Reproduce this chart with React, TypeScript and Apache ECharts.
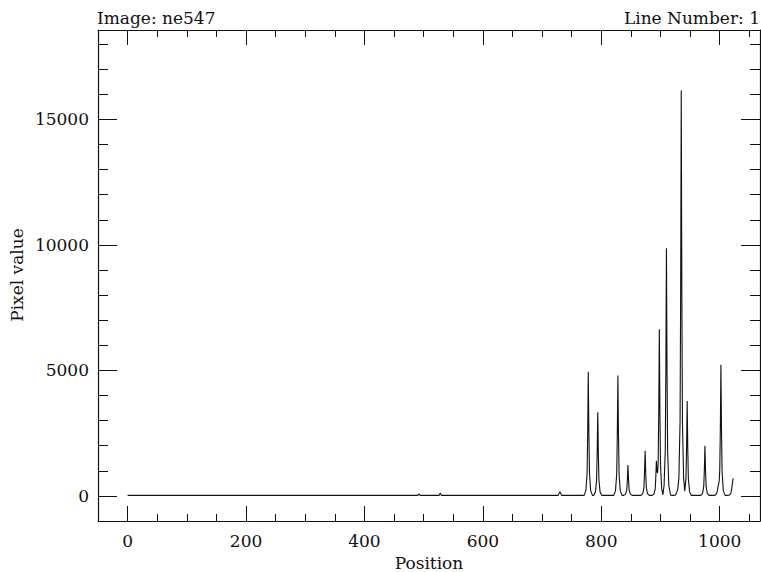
import React, { useEffect, useRef } from "react";
import * as echarts from "echarts";

const positions = [
  0, 490, 492, 494, 526, 528, 530, 727, 730, 733,
  771, 774, 776, 777, 778, 779, 780, 782, 785,
  787, 790, 792, 793, 794, 795, 796, 798, 801,
  821, 824, 826, 827, 828, 829, 830, 832, 835,
  838, 841, 843, 844, 845, 846, 847, 849, 852,
  867, 870, 872, 873, 874, 875, 876, 878, 881,
  886, 889, 891, 892, 893, 894, 895, 896, 897, 898, 899, 900, 902, 904,
  906, 908, 909, 910, 911, 912, 914, 917, 920,
  925, 927, 929, 931, 933, 934, 935, 936, 937, 939, 941, 943, 944, 945, 946, 947, 949, 952,
  968, 971, 973, 974, 975, 976, 977, 979, 982,
  990, 993, 995, 996, 998, 999, 1000, 1001, 1002, 1003, 1004, 1006, 1009,
  1012, 1016, 1018, 1019, 1020, 1021, 1022, 1023,
];

const pixelValues = [
  20, 20, 80, 20, 20, 120, 20, 20, 170, 20,
  20, 220, 910, 2500, 4950, 2500, 910, 220, 20,
  20, 150, 620, 1685, 3330, 1685, 620, 150, 20,
  20, 210, 880, 2420, 4800, 2420, 880, 210, 20,
  20, 70, 240, 635, 1230, 635, 240, 70, 20,
  20, 90, 340, 920, 1800, 920, 340, 90, 20,
  20, 80, 270, 720, 1400, 980, 910, 1300, 3340, 6640, 3320, 1220, 285, 40,
  415, 1800, 4950, 9870, 4950, 1800, 415, 30, 20,
  30, 120, 260, 700, 2950, 8100, 16150, 8100, 2950, 720, 190, 700, 1910, 3780, 1910, 700, 170, 20,
  20, 100, 380, 1010, 2000, 1010, 380, 100, 20,
  20, 40, 110, 200, 480, 560, 1000, 2610, 5220, 2610, 940, 210, 20,
  20, 30, 80, 130, 260, 430, 620, 700,
];

const xMajorTicks = [0, 200, 400, 600, 800, 1000];
const xMinorTicks = [50, 100, 150, 250, 300, 350, 450, 500, 550, 650, 700, 750, 850, 900, 950, 1050];
const yMajorTicks = [0, 5000, 10000, 15000];
const yMinorTicks = [1000, 2000, 3000, 4000, 6000, 7000, 8000, 9000, 11000, 12000, 13000, 14000, 16000, 17000, 18000];

const X_MIN = -50;
const X_MAX = 1068;
const Y_MIN = -1000;
const Y_MAX = 18560;

const FONT = "DejaVu Serif";
const FONT_SIZE = 17;
const INK = "#111";

export default function App() {
  const ref = useRef<HTMLDivElement>(null);

  useEffect(() => {
    if (!ref.current) return;
    const chart = echarts.init(ref.current, undefined, { renderer: "svg" });

    const line = { show: true, onZero: false, lineStyle: { color: INK, width: 1.2 } };
    const noLine = { show: false, onZero: false };

    const xAxisBase = (position: string, major: boolean, labels: boolean) => ({
      type: "value",
      position,
      min: X_MIN,
      max: X_MAX,
      axisLine: major ? line : noLine,
      splitLine: { show: false },
      axisTick: {
        show: true,
        inside: true,
        length: major ? 15 : 7,
        customValues: major ? xMajorTicks : xMinorTicks,
        lineStyle: { color: INK, width: 1 },
      },
      axisLabel: labels
        ? {
            show: true,
            customValues: xMajorTicks,
            formatter: (v: number) => String(v),
            margin: 11,
            color: INK,
            fontFamily: FONT,
            fontSize: FONT_SIZE,
          }
        : { show: false },
    });

    const yAxisBase = (position: string, major: boolean, labels: boolean) => ({
      type: "value",
      position,
      min: Y_MIN,
      max: Y_MAX,
      axisLine: major ? line : noLine,
      splitLine: { show: false },
      axisTick: {
        show: true,
        inside: true,
        length: major ? 19 : 10,
        customValues: major ? yMajorTicks : yMinorTicks,
        lineStyle: { color: INK, width: 1 },
      },
      axisLabel: labels
        ? {
            show: true,
            customValues: yMajorTicks,
            formatter: (v: number) => String(v),
            margin: 9,
            color: INK,
            fontFamily: FONT,
            fontSize: FONT_SIZE,
          }
        : { show: false },
    });

    const data = positions.map((p, i) => [p, pixelValues[i]]);

    chart.setOption({
      animation: false,
      backgroundColor: "#fff",
      grid: { left: 98, right: 1, top: 30, bottom: 51, containLabel: false },
      xAxis: [
        xAxisBase("bottom", true, true),
        xAxisBase("bottom", false, false),
        xAxisBase("top", true, false),
        xAxisBase("top", false, false),
      ],
      yAxis: [
        yAxisBase("left", true, true),
        yAxisBase("left", false, false),
        yAxisBase("right", true, false),
        yAxisBase("right", false, false),
      ],
      series: [
        {
          type: "line",
          xAxisIndex: 0,
          yAxisIndex: 0,
          data,
          showSymbol: false,
          symbol: "none",
          lineStyle: { color: INK, width: 1.1 },
        },
      ],
      graphic: [
        {
          type: "text",
          left: 97,
          top: 9,
          style: { text: "Image: ne547", fill: INK, font: `${FONT_SIZE}px "${FONT}"` },
        },
        {
          type: "text",
          right: 1,
          top: 9,
          style: { text: "Line Number: 1", fill: INK, font: `${FONT_SIZE}px "${FONT}"` },
        },
        {
          type: "text",
          x: 17,
          y: 275,
          rotation: Math.PI / 2,
          style: {
            text: "Pixel value",
            fill: INK,
            font: `${FONT_SIZE}px "${FONT}"`,
            align: "center",
            verticalAlign: "middle",
          },
        },
        {
          type: "text",
          x: 429,
          y: 563,
          style: {
            text: "Position",
            fill: INK,
            font: `${FONT_SIZE}px "${FONT}"`,
            align: "center",
            verticalAlign: "middle",
          },
        },
      ],
    });

    return () => chart.dispose();
  }, []);

  return (
    <div
      ref={ref}
      style={{ position: "fixed", left: 0, top: 0, width: 761, height: 572, background: "#fff" }}
    />
  );
}
